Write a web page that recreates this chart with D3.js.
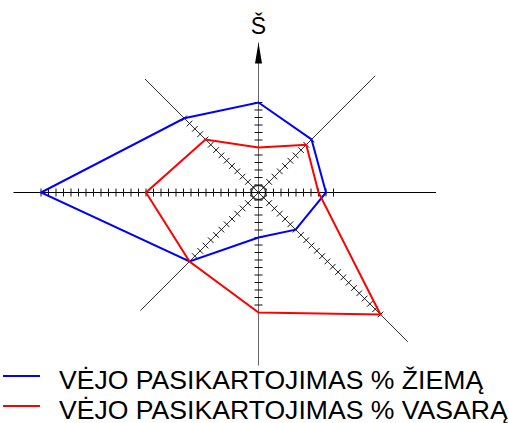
<!DOCTYPE html>
<html>
<head>
<meta charset="utf-8">
<script src="https://cdn.jsdelivr.net/npm/d3@7"></script>
<style>
    body { margin: 0; background: #fff; }
    svg { display: block; font-family: "Liberation Sans", Arial, sans-serif; }
</style>
</head>
<body>
<svg id="chart" width="509" height="423"></svg>
<script>
"use strict";

// directions clockwise from north
var directions = ["Š", "ŠR", "R", "PR", "P", "PV", "V", "ŠV"];

// wind frequency, %
var winter = [12, 10, 9, 7, 6, 13, 29, 14];
var summer = [6, 9, 8, 23, 16, 13, 15, 10];

// number of tick marks on each direction
var tick_counts = [12, 10, 10, 23, 15, 13, 29, 14];

var series_names = ["VĖJO PASIKARTOJIMAS % ŽIEMĄ", "VĖJO PASIKARTOJIMAS % VASARĄ"];


var width = 509,
    height = 423,
    cx = 258.5,
    cy = 192.5;

// axis line length per direction, px
var axis_len = [150, 165, 177.5, 211, 173, 167, 245, 160.5];

var r = d3.scaleLinear().domain([0, 29]).range([0, 217.5]);

var svg = d3.select("#chart");
var g = svg.append("g").attr("transform", "translate(" + cx + "," + cy + ")");

function angle(i) {
    return i * Math.PI / 4;   // 0 = north, clockwise
}

function point(i, len) {
    var a = angle(i);
    return [Math.sin(a) * len, -Math.cos(a) * len];
}

//
// axes
//
var axis_color = function (i) {
    if (i === 0 || i === 4) return "#666";
    if (i === 2 || i === 6) return "#000";
    return "#333";
};

directions.forEach(function (d, i) {
    var end = point(i, axis_len[i]);
    g.append("line")
        .attr("x1", 0).attr("y1", 0)
        .attr("x2", end[0]).attr("y2", end[1])
        .attr("stroke", axis_color(i))
        .attr("stroke-width", 1);

    // ticks perpendicular to the axis
    var ticks = d3.range(1, tick_counts[i] + 1);
    var a = angle(i);
    var px = Math.cos(a) * 4, py = Math.sin(a) * 4;
    g.selectAll("line.tick" + i)
        .data(ticks)
        .enter().append("line")
        .attr("class", "tick" + i)
        .attr("x1", function (t) { return point(i, r(t))[0] - px; })
        .attr("y1", function (t) { return point(i, r(t))[1] - py; })
        .attr("x2", function (t) { return point(i, r(t))[0] + px; })
        .attr("y2", function (t) { return point(i, r(t))[1] + py; })
        .attr("stroke", "#111")
        .attr("stroke-width", 1);
});

// centre circle
g.append("circle")
    .attr("r", 7)
    .attr("fill", "none")
    .attr("stroke", "#000")
    .attr("stroke-width", 1);

// north arrow
var tip = -axis_len[0];
g.append("path")
    .attr("d", "M 0 " + tip + " L 3.5 " + (tip + 21) + " L -3.5 " + (tip + 21) + " Z")
    .attr("fill", "#000");

g.append("text")
    .attr("x", 0)
    .attr("y", tip - 9)
    .attr("text-anchor", "middle")
    .attr("font-size", 23)
    .attr("fill", "#000")
    .text(directions[0]);

//
// wind roses
//
var rose = d3.lineRadial()
    .angle(function (d, i) { return angle(i); })
    .radius(function (d) { return r(d); })
    .curve(d3.curveLinearClosed);

var colors = ["#0000ff", "#ff0000"];

g.selectAll("path.rose")
    .data([winter, summer])
    .enter().append("path")
    .attr("class", "rose")
    .attr("d", rose)
    .attr("fill", "none")
    .attr("stroke", function (d, i) { return colors[i]; })
    .attr("stroke-width", 2)
    .attr("stroke-linejoin", "miter");

//
// legend
//
var legend = svg.selectAll("g.legend")
    .data(series_names)
    .enter().append("g")
    .attr("class", "legend")
    .attr("transform", function (d, i) { return "translate(0," + (376 + i * 30) + ")"; });

legend.append("line")
    .attr("x1", 3).attr("x2", 40)
    .attr("y1", 0).attr("y2", 0)
    .attr("stroke", function (d, i) { return colors[i]; })
    .attr("stroke-width", 2);

legend.append("text")
    .attr("x", 59)
    .attr("y", 12.5)
    .attr("font-size", 26.6)
    .attr("fill", "#000")
    .text(function (d) { return d; });
</script>
</body>
</html>
